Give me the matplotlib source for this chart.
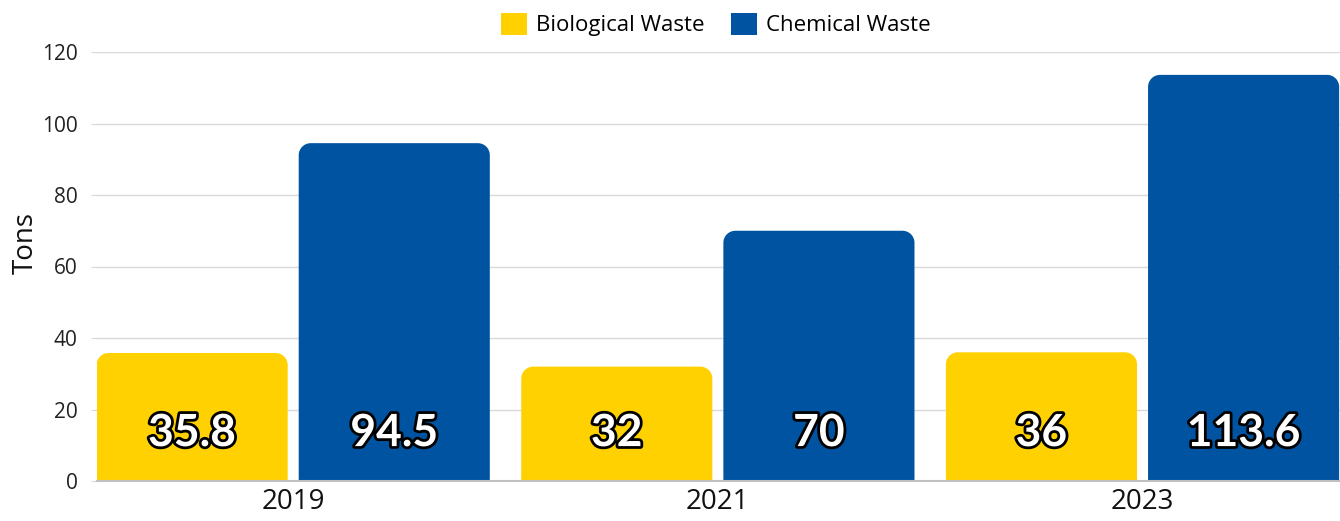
import matplotlib
matplotlib.use("Agg")
import matplotlib.pyplot as plt
import matplotlib.patheffects as pe
from matplotlib.path import Path
from matplotlib.patches import PathPatch, Patch
import numpy as np

years = ["2019", "2021", "2023"]
series_names = ["Biological Waste", "Chemical Waste"]
biological = [35.8, 32, 36]
chemical = [94.5, 70, 113.6]
label_biological = ["35.8", "32", "36"]
label_chemical = ["94.5", "70", "113.6"]
colors = ["#FFD100", "#0053A0"]

plt.rcParams['font.family'] = ['Open Sans', 'DejaVu Sans']

fig = plt.figure(figsize=(13.4, 5.21), dpi=100)
ax = fig.add_axes([97/1340, 1 - 481/521, 1243/1340, 429/521])

ax.set_xlim(-0.462, 2.465)
ax.set_ylim(0, 120)

x = np.arange(len(years))
width = 0.45
offset = 0.238

# px per data unit
px_x = 1243 / (2.465 + 0.462)
px_y = 429 / 120
r_px = 12
rx = r_px / px_x
ry = r_px / px_y
k = 0.5523


def rounded_bar(xc, h, color):
    x0, x1 = xc - width / 2, xc + width / 2
    ryy = min(ry, h)
    verts = [
        (x0, 0), (x0, h - ryy),
        (x0, h - ryy + k * ryy), (x0 + rx - k * rx, h), (x0 + rx, h),
        (x1 - rx, h),
        (x1 - rx + k * rx, h), (x1, h - ryy + k * ryy), (x1, h - ryy),
        (x1, 0), (x0, 0)
    ]
    codes = [Path.MOVETO, Path.LINETO,
             Path.CURVE4, Path.CURVE4, Path.CURVE4,
             Path.LINETO,
             Path.CURVE4, Path.CURVE4, Path.CURVE4,
             Path.LINETO, Path.CLOSEPOLY]
    ax.add_patch(PathPatch(Path(verts, codes), facecolor=color,
                           edgecolor='none', zorder=3))


def bar_label(xi, lab):
    ax.text(xi, 13.4, lab, ha='center', va='center', fontsize=32,
            fontweight='bold', color='white', family=['Lato', 'DejaVu Sans'],
            zorder=5,
            path_effects=[pe.withStroke(linewidth=4, foreground='black')])


for xi, v, lab in zip(x - offset, biological, label_biological):
    rounded_bar(xi, v, colors[0])
    bar_label(xi, lab)
for xi, v, lab in zip(x + offset, chemical, label_chemical):
    rounded_bar(xi, v, colors[1])
    bar_label(xi, lab)

ax.set_yticks(np.arange(0, 121, 20))
ax.yaxis.grid(True, color='#d9d9d9', linewidth=1)
ax.set_axisbelow(True)
for s in ['left', 'right', 'top']:
    ax.spines[s].set_visible(False)
ax.spines['bottom'].set_color('#c0c0c0')
ax.spines['bottom'].set_linewidth(1.5)
ax.spines['bottom'].set_zorder(4)

ax.set_xticks(x)
ax.set_xticklabels(years, fontsize=20, color='#111111')
ax.tick_params(axis='x', length=0, pad=5)
ax.tick_params(axis='y', length=4, color='#d9d9d9', labelsize=15,
               labelcolor='#222222', pad=10)
ax.set_ylabel('Tons', fontsize=20, color='#111111')
ax.yaxis.set_label_coords(-0.046, 0.554)

handles = [Patch(facecolor=c, edgecolor='none') for c in colors]
fig.legend(handles, series_names, loc='upper center',
           bbox_to_anchor=(0.534, 1.014), ncol=2, frameon=False,
           fontsize=16, handlelength=1.17, handleheight=1.17,
           handletextpad=0.4, columnspacing=1.2)

fig.savefig('out.png', dpi=100)
